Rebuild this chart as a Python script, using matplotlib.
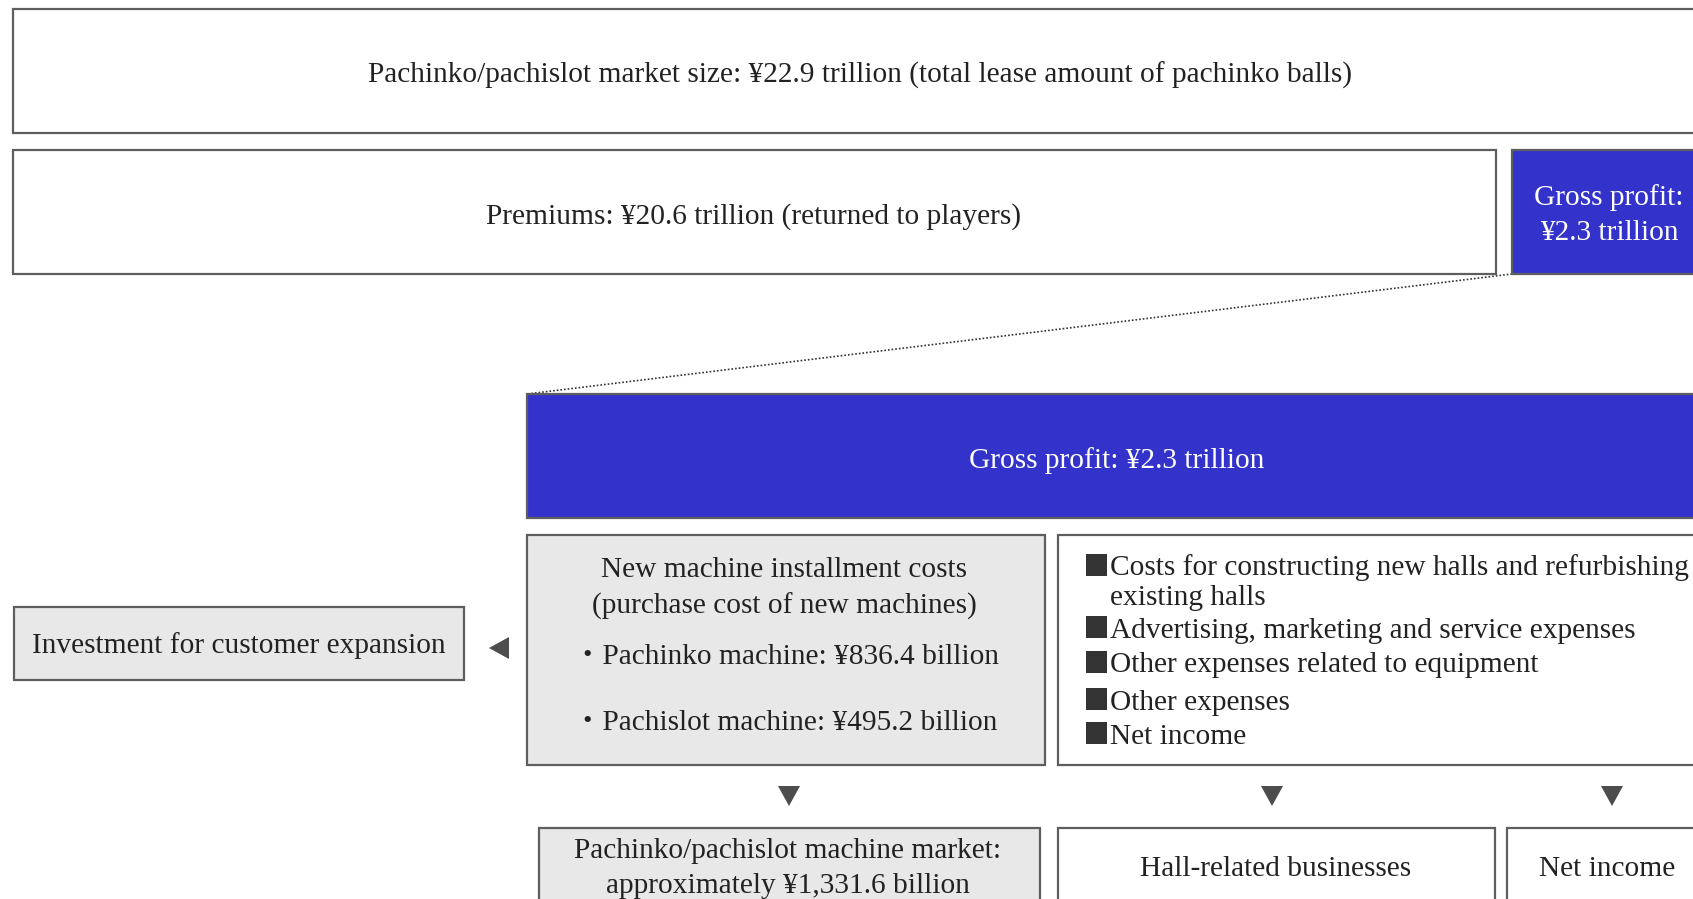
import matplotlib.pyplot as plt
from matplotlib.patches import Rectangle, Polygon

# values (trillion / billion yen)
market_size = 22.9
premiums = 20.6
gross_profit = 2.3
pachinko_cost = 836.4
pachislot_cost = 495.2
machine_market = 1331.6

hall_items = [
    "Costs for constructing new halls and refurbishing\nexisting halls",
    "Advertising, marketing and service expenses",
    "Other expenses related to equipment",
    "Other expenses",
    "Net income",
]

serif = ['Liberation Serif', 'DejaVu Serif']
serif_jp = ['Liberation Serif', 'Noto Sans CJK JP']
edge = '#5e5e5e'
blue = '#3333cc'
gray = '#e8e8e8'
txt = '#222222'
fs = 21.2

fig = plt.figure(figsize=(16.93, 8.99), dpi=100)
ax = fig.add_axes([0, 0, 1, 1])
ax.set_xlim(0, 1693)
ax.set_ylim(899, 0)
ax.axis('off')


def box(x0, y0, x1, y1, fc='white'):
    ax.add_patch(Rectangle((x0, y0), x1 - x0, y1 - y0, fc=fc, ec=edge, lw=1.6, zorder=2))


def label(x, y, s, color=txt, ha='center', family=serif, ls=1.45):
    # small downward nudge so the glyphs sit like in the original
    ax.text(x, y + 3.5, s, ha=ha, va='center', fontsize=fs, color=color, family=family,
            linespacing=ls, zorder=3)


# top rows
box(13, 9, 1710, 133)
label(860, 72, f"Pachinko/pachislot market size: ¥{market_size} trillion (total lease amount of pachinko balls)")
box(13, 150, 1496, 274)
label(754, 213, f"Premiums: ¥{premiums} trillion (returned to players)")
box(1512, 150, 1710, 274, fc=blue)
label(1609, 212, f"Gross profit:\n¥{gross_profit} trillion", color='white')

# dotted connector
ax.plot([1512, 527], [274, 394], color='#333333', lw=1.2, ls=(0, (1, 1.2)), zorder=1)

# big gross profit bar
box(527, 394, 1710, 518, fc=blue)
label(1117, 457, f"Gross profit: ¥{gross_profit} trillion", color='white')

# new machine costs
box(527, 535, 1045, 765, fc=gray)
label(784, 585, "New machine installment costs\n(purchase cost of new machines)")
label(573, 653, f"・Pachinko machine: ¥{pachinko_cost} billion", ha='left', family=serif_jp)
label(573, 719, f"・Pachislot machine: ¥{pachislot_cost} billion", ha='left', family=serif_jp)

# hall costs
box(1058, 535, 1710, 765)
ys = [579, 627, 662, 699, 733]
for yy, item in zip(ys, hall_items):
    top = yy - 14 if "\n" in item else yy
    ax.add_patch(Rectangle((1086, top - 11), 21, 22, fc='#333333', ec='none', zorder=3))
    label(1110, yy, item, ha='left', ls=1.2)

# investment for customer expansion
box(14, 607, 464, 680, fc=gray)
label(239, 642, "Investment for customer expansion")
ax.add_patch(Polygon([[489, 648], [509, 637], [509, 659]], fc='#4d4d4d', ec='none'))

# down arrows
for xc in [789, 1272, 1612]:
    ax.add_patch(Polygon([[xc - 11, 786], [xc + 11, 786], [xc, 806]], fc='#4d4d4d', ec='none'))

# bottom row
box(539, 828, 1040, 920, fc=gray)
label(788, 865, f"Pachinko/pachislot machine market:\napproximately ¥{machine_market:,.1f} billion")
box(1058, 828, 1495, 920)
label(1276, 865, "Hall-related businesses")
box(1507, 828, 1710, 920)
label(1607, 865, "Net income")

fig.savefig('out.png', dpi=100)
